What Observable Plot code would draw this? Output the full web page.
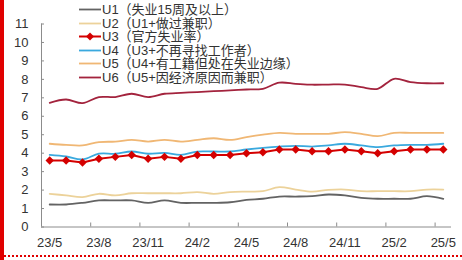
<!DOCTYPE html>
<html>
<head>
<meta charset="utf-8">
<script src="https://cdn.jsdelivr.net/npm/d3@7"></script>
<script src="https://cdn.jsdelivr.net/npm/@observablehq/plot@0.6"></script>
<style>
  html, body { margin: 0; padding: 0; background: #fff; overflow: hidden; }
  #wrap { position: relative; width: 462px; height: 260px; background: #fff; }
  #chart { position: absolute; left: 0; top: 0; }
  #legend { position: absolute; left: 79px; top: 3px; font-family: "Liberation Sans", Arial, "Noto Sans CJK SC", sans-serif; font-size: 13px; color: #333; }
  .row { display: flex; align-items: center; height: 13.5px; line-height: 13.5px; white-space: nowrap; }
  .row svg { display: block; margin-right: 1px; }
  #redLeft { position: absolute; left: 0; top: 0; width: 4px; height: 260px; background: #e00000; }
  #redBottom { position: absolute; left: 0; top: 255px; width: 462px; height: 0; border-top: 2px dotted #e00000; }
</style>
</head>
<body>
<div id="wrap">
  <div id="chart"></div>
  <div id="legend"></div>
  <div id="redLeft"></div>
  <div id="redBottom"></div>
</div>
<script>
// ---- data ----
const months = ["23/5","23/6","23/7","23/8","23/9","23/10","23/11","23/12","24/1","24/2","24/3","24/4","24/5","24/6","24/7","24/8","24/9","24/10","24/11","24/12","25/1","25/2","25/3","25/4","25/5"];
const tickLabels = ["23/5","23/8","23/11","24/2","24/5","24/8","24/11","25/2","25/5"];
const yTicks = [0,1,2,3,4,5,6,7,8,9,10,11];
const seriesNames = ["U1","U2","U3","U4","U5","U6"];
const legendLabels = ["U1（失业15周及以上）","U2（U1+做过兼职）","U3（官方失业率）","U4（U3+不再寻找工作者）","U5（U4+有工籍但处在失业边缘）","U6（U5+因经济原因而兼职）"];
const U1 = [1.22,1.22,1.31,1.44,1.44,1.44,1.31,1.44,1.31,1.31,1.31,1.34,1.47,1.53,1.65,1.65,1.67,1.76,1.71,1.58,1.53,1.53,1.53,1.67,1.53];
const U2 = [1.80,1.71,1.62,1.80,1.71,1.83,1.83,1.83,1.83,1.89,1.80,1.89,1.92,1.94,2.16,2.03,1.92,2.01,2.03,1.94,1.94,1.94,1.94,2.03,2.03];
const U3 = [3.6,3.6,3.5,3.7,3.8,3.9,3.7,3.8,3.7,3.9,3.9,3.9,4.0,4.05,4.2,4.2,4.1,4.1,4.2,4.1,4.0,4.1,4.2,4.2,4.2];
const U4 = [3.91,3.82,3.66,3.97,3.97,4.09,3.97,4.02,3.91,4.09,4.09,4.09,4.20,4.29,4.36,4.40,4.36,4.42,4.51,4.42,4.33,4.42,4.45,4.45,4.51];
const U5 = [4.51,4.45,4.42,4.60,4.63,4.72,4.63,4.72,4.63,4.72,4.81,4.72,4.87,5.00,5.10,5.05,5.05,5.05,5.14,5.05,4.92,5.10,5.10,5.10,5.10];
const U6 = [6.73,6.91,6.71,7.04,7.04,7.22,7.04,7.22,7.27,7.31,7.36,7.40,7.45,7.49,7.82,7.76,7.71,7.72,7.72,7.58,7.49,8.03,7.85,7.79,7.79];

// ---- styles ----
const colors = {U1:"#636363", U2:"#ecd29a", U3:"#d40000", U4:"#3aa9de", U5:"#f0b774", U6:"#a3233d"};
const valuesByName = {U1, U2, U3, U4, U5, U6};

const W = 462, H = 260;
const mL = 41, mR = 11, mT = 23.5, mB = 33.5;
const plotW = W - mL - mR, plotH = H - mT - mB;

const labelIdx = tickLabels.map(l => months.indexOf(l));
const tickPos = labelIdx.filter(i => i > 0).map(i => i - 0.5);

const rows = name => valuesByName[name].map((v, i) => ({name, i, v}));
const drawOrder = ["U1","U2","U5","U6","U4"];

const axisColor = "#8c8c8c";
const chart = Plot.plot({
  width: W, height: H,
  marginLeft: mL, marginRight: mR, marginTop: mT, marginBottom: mB,
  x: {type: "linear", domain: [-0.5, months.length - 0.5], axis: null, label: null},
  y: {domain: [0, 11], axis: null, label: null},
  style: {fontFamily: "'Liberation Sans', Arial, sans-serif", fontSize: "13px", color: "#333", background: "transparent"},
  marks: [
    Plot.ruleX([-0.5], {y1: 0, y2: 11, stroke: axisColor}),
    Plot.ruleY([0], {stroke: axisColor}),
    Plot.tickY(yTicks, {y: d => d, stroke: axisColor, insetRight: plotW - 3}),
    Plot.tickX(tickPos, {x: d => d, stroke: axisColor, insetTop: plotH - 4}),
    Plot.axisY({ticks: yTicks, tickSize: 0, tickPadding: 13, tickFormat: d => String(d), fill: "#333", label: null}),
    Plot.axisX({ticks: labelIdx, tickSize: 0, tickPadding: 11, tickFormat: i => months[i], fill: "#333", label: null}),
    ...drawOrder.map(n => Plot.line(rows(n), {x: "i", y: "v", stroke: colors[n], strokeWidth: 1.8, curve: "catmull-rom"})),
    Plot.line(rows("U3"), {x: "i", y: "v", stroke: colors.U3, strokeWidth: 2}),
    Plot.dot(rows("U3"), {x: "i", y: "v", symbol: "diamond2", r: 3.8, fill: colors.U3, stroke: "none"})
  ]
});
document.getElementById("chart").appendChild(chart);

// ---- legend ----
const legend = document.getElementById("legend");
seriesNames.forEach((n, k) => {
  const row = document.createElement("div");
  row.className = "row";
  const marker = n === "U3" ? `<path d="M11,2.5L15,6.5L11,10.5L7,6.5Z" fill="${colors[n]}"/>` : "";
  row.innerHTML = `<svg width="22" height="13"><line x1="0" x2="22" y1="6.5" y2="6.5" stroke="${colors[n]}" stroke-width="${n === "U3" ? 2 : 1.8}"/>${marker}</svg><span>${legendLabels[k]}</span>`;
  legend.appendChild(row);
});
</script>
</body>
</html>
